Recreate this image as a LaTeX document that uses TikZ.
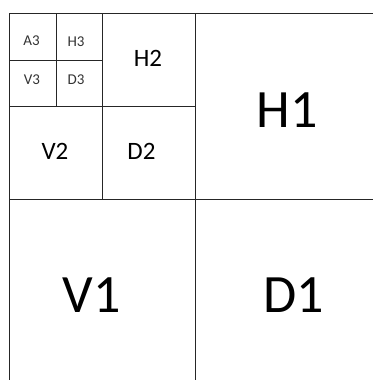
\documentclass[tikz,border=0pt]{standalone}
\usepackage{fontspec}
\setmainfont{Carlito}
\begin{document}
\begin{tikzpicture}[x=1pt,y=-1pt,
  grid/.style={draw=black!85,line width=0.9pt},
  lthree/.style={inner sep=0pt,font=\fontsize{15}{15}\selectfont,text=black!80},
  ltwo/.style={inner sep=0pt,font=\fontsize{25}{25}\selectfont},
  lone/.style={inner sep=0pt,font=\fontsize{54}{54}\selectfont}]
\useasboundingbox (0,0) rectangle (373,380);
% grid
\draw[grid] (9,13) -- (373,13);
\draw[grid] (9,13) -- (9,380);
\draw[grid] (195,13) -- (195,380);
\draw[grid] (9,199) -- (373,199);
\draw[grid] (102,13) -- (102,199);
\draw[grid] (9,106) -- (195,106);
\draw[grid] (56,13) -- (56,106);
\draw[grid] (9,60) -- (102,60);
% labels
\node[lthree] (a3) at (31.5,40.5) {A3};
\node[lthree] (h3) at (76,41.5) {H3};
\node[lthree] (v3) at (32,79.5) {V3};
\node[lthree] (d3) at (76,79.5) {D3};
\node[ltwo] (h2) at (148,58.7) {H2};
\node[ltwo] (v2) at (55,151.5) {V2};
\node[ltwo] (d2) at (141.5,151.5) {D2};
\node[lone] (h1) at (287.5,110) {H1};
\node[lone] (v1) at (91.5,295.3) {V1};
\node[lone] (d1) at (293.3,295.3) {D1};
\end{tikzpicture}
\end{document}
